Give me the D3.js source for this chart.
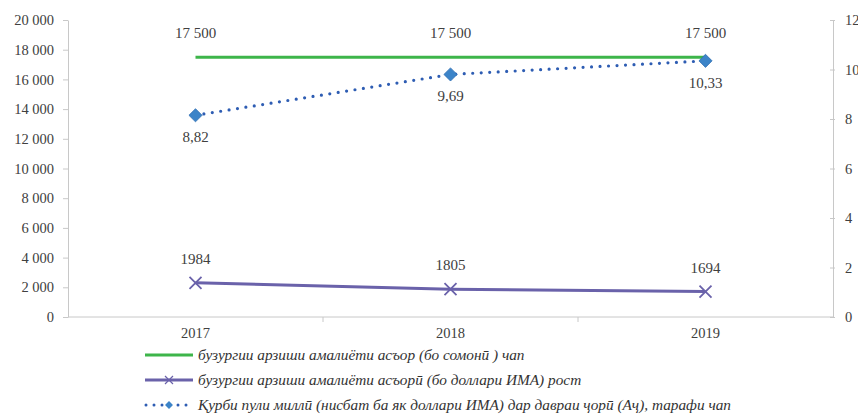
<!DOCTYPE html>
<html>
<head>
<meta charset="utf-8">
<script src="https://cdn.jsdelivr.net/npm/d3@7"></script>
<style>
  body { margin: 0; background: #fff; }
  svg text { font-family: "Liberation Serif", "DejaVu Serif", serif; fill: #404040; }
  svg text.legend { font-style: italic; fill: #333; }
</style>
</head>
<body>
<div id="chart"></div>
<script>
// data
let years = ["2017", "2018", "2019"];
let somoniValues = [17500, 17500, 17500];
let somoniLabels = ["17 500", "17 500", "17 500"];
let dollarValues = [2300, 1870, 1710];
let dollarLabels = ["1984", "1805", "1694"];
let rateValues = [8.15, 9.8, 10.35];
let rateLabels = ["8,82", "9,69", "10,33"];
let leftTicks = [0, 2000, 4000, 6000, 8000, 10000, 12000, 14000, 16000, 18000, 20000];
let rightTicks = [0, 2, 4, 6, 8, 10, 12];
let legendNames = [
    "бузургии арзиши амалиёти асъор (бо сомонӣ ) чап",
    "бузургии арзиши амалиёти асъорӣ (бо доллари ИМА) рост",
    "Қурби пули миллӣ (нисбат ба як доллари ИМА) дар давраи ҷорӣ (Аҷ), тарафи чап"
];

WIDTH = 858;
HEIGHT = 415;
let plotLeft = 68, plotRight = 833, plotTop = 20, plotBottom = 317;

let svg = d3.select("#chart").append("svg")
    .attr("width", WIDTH).attr("height", HEIGHT);

let x = d3.scaleBand().domain(years).range([plotLeft, plotRight]);
let cx = (d) => x(d) + x.bandwidth() / 2;
let yLeft = d3.scaleLinear().domain([0, 20000]).range([plotBottom, plotTop]);
let yRight = d3.scaleLinear().domain([0, 12]).range([plotBottom, plotTop]);

let fmt = (v) => d3.format(",")(v).replace(/,/g, " ");

// left axis
let gl = svg.append("g").attr("transform", `translate(${plotLeft},0)`)
    .call(d3.axisLeft(yLeft).tickValues(leftTicks).tickFormat(fmt).tickSize(5).tickPadding(9).tickSizeOuter(0));
// right axis
let gr = svg.append("g").attr("transform", `translate(${plotRight},0)`)
    .call(d3.axisRight(yRight).tickValues(rightTicks).tickSize(5).tickPadding(7).tickSizeOuter(0));
gr.selectAll(".tick line").attr("x1", -3).attr("x2", 2);
[gl, gr].forEach((g) => {
    g.selectAll("path, line").attr("stroke", "#c8c8c8");
    g.selectAll("text").style("font-size", "14.5px").attr("fill", "#404040");
});

// x axis
svg.append("line").attr("x1", plotLeft).attr("x2", plotRight)
    .attr("y1", plotBottom).attr("y2", plotBottom).attr("stroke", "#c8c8c8");
svg.selectAll(".xtick").data(years.slice(1)).enter().append("line")
    .attr("x1", (d) => x(d)).attr("x2", (d) => x(d))
    .attr("y1", plotBottom).attr("y2", plotBottom + 5).attr("stroke", "#c8c8c8");
svg.selectAll(".xlabel").data(years).enter().append("text")
    .attr("x", cx).attr("y", plotBottom + 21)
    .attr("text-anchor", "middle").style("font-size", "14.5px")
    .text((d) => d);

// green line
let greenLine = d3.line().x((d, i) => cx(years[i])).y((d) => yLeft(d));
svg.append("path").datum(somoniValues)
    .attr("d", greenLine).attr("fill", "none")
    .attr("stroke", "#3db54a").attr("stroke-width", 3);
svg.selectAll(".glabel").data(somoniValues).enter().append("text")
    .attr("x", (d, i) => cx(years[i])).attr("y", (d) => yLeft(d) - 19)
    .attr("text-anchor", "middle").style("font-size", "15px")
    .text((d, i) => somoniLabels[i]);

// purple line
let purpleLine = d3.line().x((d, i) => cx(years[i])).y((d) => yLeft(d));
svg.append("path").datum(dollarValues)
    .attr("d", purpleLine).attr("fill", "none")
    .attr("stroke", "#6a62aa").attr("stroke-width", 3);
svg.selectAll(".pmark").data(dollarValues).enter().append("path")
    .attr("transform", (d, i) => `translate(${cx(years[i])},${yLeft(d)})`)
    .attr("d", "M-6,-6L6,6M-6,6L6,-6")
    .attr("stroke", "#6a62aa").attr("stroke-width", 1.8).attr("fill", "none");
svg.selectAll(".plabel").data(dollarValues).enter().append("text")
    .attr("x", (d, i) => cx(years[i])).attr("y", (d) => yLeft(d) - 19)
    .attr("text-anchor", "middle").style("font-size", "15px")
    .text((d, i) => dollarLabels[i]);

// blue dotted line
let blueLine = d3.line().x((d, i) => cx(years[i])).y((d) => yRight(d));
svg.append("path").datum(rateValues)
    .attr("d", blueLine).attr("fill", "none")
    .attr("stroke", "#2e5db3").attr("stroke-width", 3.2)
    .attr("stroke-linecap", "round").attr("stroke-dasharray", "0 8.5");
svg.selectAll(".bmark").data(rateValues).enter().append("path")
    .attr("transform", (d, i) => `translate(${cx(years[i])},${yRight(d)})`)
    .attr("d", d3.symbol(d3.symbolDiamond2, 110))
    .attr("fill", "#3c84c8").attr("stroke", "#2e6db3").attr("stroke-width", 0.8);
svg.selectAll(".blabel").data(rateValues).enter().append("text")
    .attr("x", (d, i) => cx(years[i])).attr("y", (d) => yRight(d) + 27)
    .attr("text-anchor", "middle").style("font-size", "15px")
    .text((d, i) => rateLabels[i]);

// legend
let legend = svg.append("g").attr("transform", "translate(145,0)");
let legendY = [355, 380, 405];
legend.append("line").attr("x1", 0).attr("x2", 48)
    .attr("y1", legendY[0]).attr("y2", legendY[0])
    .attr("stroke", "#3db54a").attr("stroke-width", 3);
legend.append("line").attr("x1", 0).attr("x2", 48)
    .attr("y1", legendY[1]).attr("y2", legendY[1])
    .attr("stroke", "#6a62aa").attr("stroke-width", 3);
legend.append("path")
    .attr("transform", `translate(24,${legendY[1]})`)
    .attr("d", "M-4,-4L4,4M-4,4L4,-4")
    .attr("stroke", "#6a62aa").attr("stroke-width", 1.2);
legend.append("line").attr("x1", 1).attr("x2", 48)
    .attr("y1", legendY[2]).attr("y2", legendY[2])
    .attr("stroke", "#2e5db3").attr("stroke-width", 3)
    .attr("stroke-linecap", "round").attr("stroke-dasharray", "0 8");
legend.append("path")
    .attr("transform", `translate(24,${legendY[2]})`)
    .attr("d", d3.symbol(d3.symbolDiamond2, 40))
    .attr("fill", "#3c84c8");
legend.selectAll(".ltext").data(legendNames).enter().append("text")
    .attr("class", "legend")
    .attr("x", 53).attr("y", (d, i) => legendY[i] + 5)
    .style("font-size", "15.3px")
    .text((d) => d);
</script>
</body>
</html>
